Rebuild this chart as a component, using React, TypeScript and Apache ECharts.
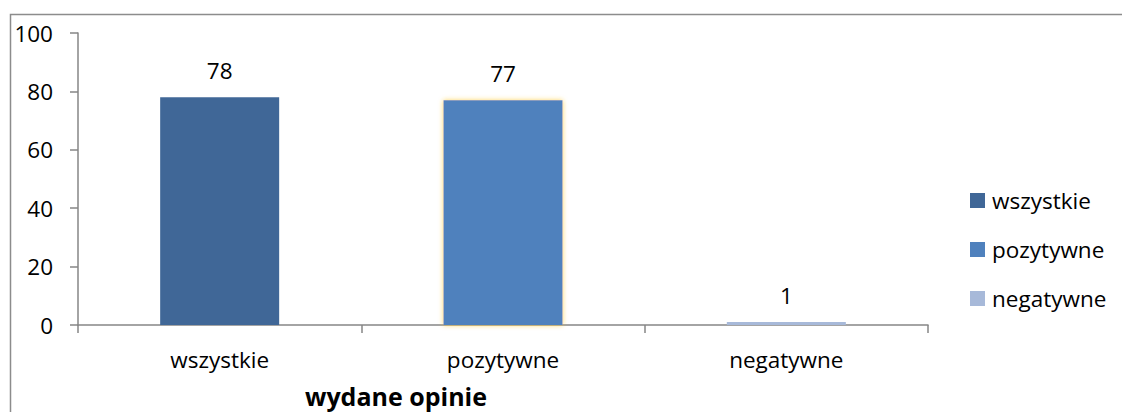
import React, { useEffect, useRef } from "react";
import * as echarts from "echarts";

const categories = ["wszystkie", "pozytywne", "negatywne"];
const seriesNames = ["wszystkie", "pozytywne", "negatywne"];
const wszystkieValues = [78, "-", "-"];
const pozytywneValues = ["-", 77, "-"];
const negatywneValues = ["-", "-", 1];
const yTicks = { min: 0, max: 100, interval: 20 };
const axisTitle = "wydane opinie";

const FONT = "'Open Sans', sans-serif";
const FS = 22.5;
const colors = ["#406797", "#4F81BD", "#A7B9D9"];

export default function App() {
  const ref = useRef<HTMLDivElement>(null);
  useEffect(() => {
    if (!ref.current) return;
    const chart = echarts.init(ref.current, undefined, { renderer: "svg" });
    const label = {
      show: true,
      position: "top" as const,
      distance: 15,
      color: "#000",
      fontFamily: FONT,
      fontSize: FS,
    };
    const dataSets = [wszystkieValues, pozytywneValues, negatywneValues];
    chart.setOption({
      animation: false,
      color: colors,
      textStyle: { fontFamily: FONT },
      grid: { left: 70, top: 25, right: 202, bottom: 87, containLabel: false },
      legend: {
        orient: "vertical",
        left: 957,
        top: 176,
        icon: "rect",
        itemWidth: 15,
        itemHeight: 15,
        itemGap: 26,
        data: seriesNames,
        textStyle: { fontFamily: FONT, fontSize: FS, color: "#000", padding: [0, 0, 0, 2] },
      },
      xAxis: {
        type: "category",
        data: categories,
        axisLine: { lineStyle: { color: "#868686", width: 1.5 } },
        axisTick: { show: true, length: 8, lineStyle: { color: "#868686", width: 1.5 }, alignWithLabel: false },
        axisLabel: { color: "#000", fontSize: FS, fontFamily: FONT, margin: 23 },
      },
      yAxis: {
        type: "value",
        min: yTicks.min,
        max: yTicks.max,
        interval: yTicks.interval,
        splitLine: { show: false },
        axisLine: { show: true, lineStyle: { color: "#868686", width: 1.5 } },
        axisTick: { show: true, length: 8, lineStyle: { color: "#868686", width: 1.5 } },
        axisLabel: { color: "#000", fontSize: FS, fontFamily: FONT, margin: 25 },
      },
      graphic: [
        {
          type: "rect",
          left: 0,
          top: 4,
          shape: { width: 1160, height: 430 },
          style: { fill: "none", stroke: "#8c8c8c", lineWidth: 1.5 },
          silent: true,
        },
        {
          type: "text",
          left: 297,
          top: 375,
          style: { text: axisTitle, font: `bold 25px ${FONT}`, fill: "#000" },
        },
      ],
      series: dataSets.map((d, i) => ({
        name: seriesNames[i],
        type: "bar",
        stack: "total",
        barWidth: "42%",
        data: d,
        label,
        itemStyle:
          i === 1
            ? { color: colors[i], shadowColor: "rgba(255,200,40,0.8)", shadowBlur: 5 }
            : { color: colors[i] },
      })),
    });
    return () => chart.dispose();
  }, []);
  return <div ref={ref} style={{ width: 1122, height: 404 }} />;
}
